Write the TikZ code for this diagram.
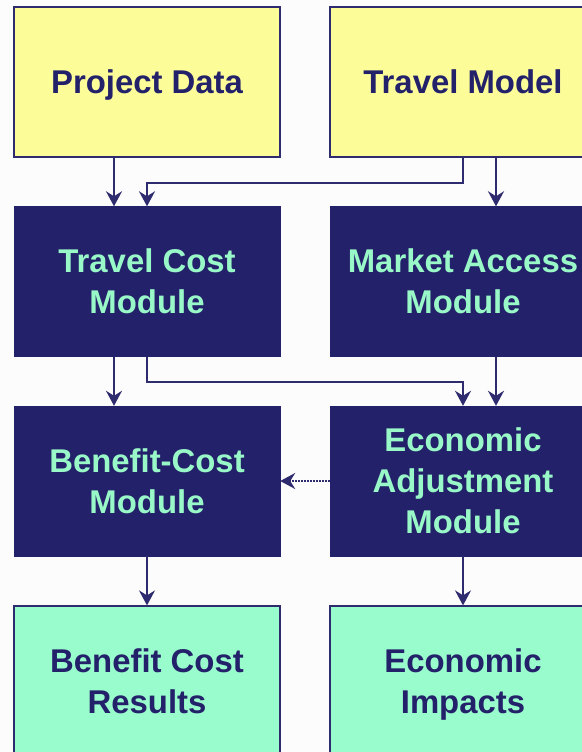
\documentclass[tikz,border=0pt]{standalone}
\usepackage{fontspec}
\setmainfont{Liberation Sans}
\usetikzlibrary{arrows.meta}
\definecolor{navy}{HTML}{23216A}
\definecolor{lineblue}{HTML}{2E2B6E}
\definecolor{paleyellow}{HTML}{FCFC99}
\definecolor{mint}{HTML}{99FCCC}
\definecolor{minttext}{HTML}{99F8C8}
\newcommand\lnstrut{\rule[-8.5bp]{0pt}{40bp}}
\tikzset{
  box/.style={rectangle, minimum width=266bp, minimum height=150bp, inner sep=0pt, align=center,
    font=\fontsize{33}{40}\selectfont\bfseries},
  inbox/.style={box, fill=paleyellow, draw=lineblue, line width=1.2bp, text=navy},
  modbox/.style={box, fill=navy, draw=navy, text=minttext},
  outbox/.style={box, fill=mint, draw=lineblue, line width=1.2bp, text=navy},
  conn/.style={draw=lineblue, line width=2bp, -{Stealth[length=15bp, width=16bp, inset=5bp]}},
  dotconn/.style={draw=lineblue, line width=2bp, dash pattern=on 1.5bp off 1.5bp, -{Stealth[length=15bp, width=16bp, inset=5bp]}}
}
\begin{document}
\begin{tikzpicture}[x=1bp, y=-1bp]
\useasboundingbox (0,0) rectangle (582,752);
\clip (0,0) rectangle (582,752);
\fill[white!99!black] (0,0) rectangle (582,752);
\node[inbox] (pd) at (147,82) {\lnstrut Project Data};
\node[inbox] (tm) at (463,82) {\lnstrut Travel Model};
\node[modbox] (tc) at (147,281.5) {\lnstrut Travel Cost\\\lnstrut Module};
\node[modbox] (ma) at (463,281.5) {\lnstrut Market Access\\\lnstrut Module};
\node[modbox] (bc) at (147,481) {\lnstrut Benefit-Cost\\\lnstrut Module};
\node[modbox] (ea) at (463,481) {\lnstrut Economic\\\lnstrut Adjustment\\\lnstrut Module};
\node[outbox] (bcr) at (147,681) {\lnstrut Benefit Cost\\\lnstrut Results};
\node[outbox] (ei) at (463,681) {\lnstrut Economic\\\lnstrut Impacts};
\draw[conn] ([xshift=-33bp]pd.south) -- ([xshift=-33bp]tc.north);
\draw[conn] (tm.south) -- ++(0,25) -| (tc.north);
\draw[conn] ([xshift=33bp]tm.south) -- ([xshift=33bp]ma.north);
\draw[conn] ([xshift=-33bp]tc.south) -- ([xshift=-33bp]bc.north);
\draw[conn] (tc.south) -- ++(0,25) -| (ea.north);
\draw[conn] ([xshift=33bp]ma.south) -- ([xshift=33bp]ea.north);
\draw[dotconn] (ea.west) -- (bc.east);
\draw[conn] (bc.south) -- (bcr.north);
\draw[conn] (ea.south) -- (ei.north);
\end{tikzpicture}
\end{document}
